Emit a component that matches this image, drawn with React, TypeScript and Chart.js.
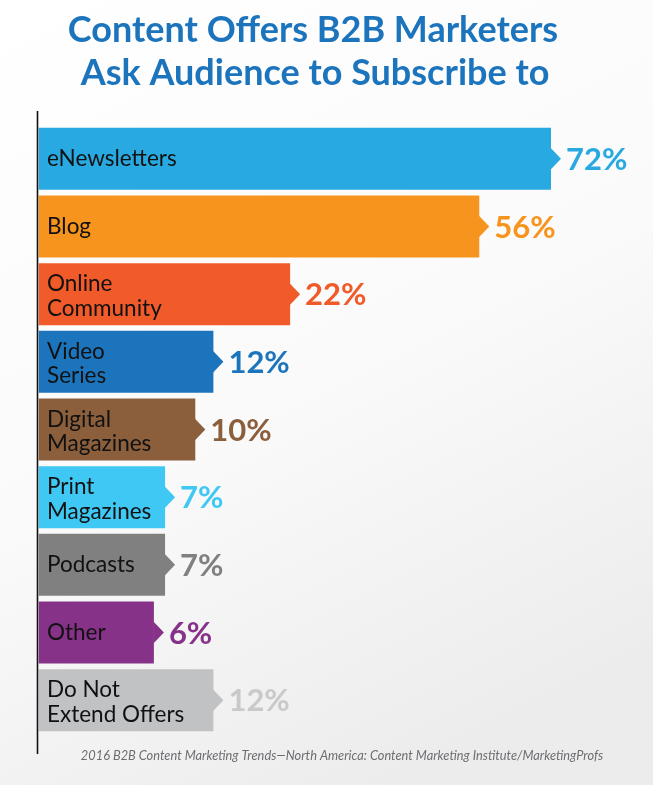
import React, { useEffect, useRef } from "react";
import { Chart, registerables, LinearScale } from "chart.js";

Chart.register(...registerables);

// ---- data ----
const categories: (string | string[])[] = [
  "eNewsletters",
  "Blog",
  ["Online", "Community"],
  ["Video", "Series"],
  ["Digital", "Magazines"],
  ["Print", "Magazines"],
  "Podcasts",
  "Other",
  ["Do Not", "Extend Offers"],
];
const values: number[] = [72, 56, 22, 12, 10, 7, 7, 6, 12];
const barColors: string[] = [
  "#29a9e1",
  "#f7941e",
  "#f15a29",
  "#1c75bc",
  "#8b5e3c",
  "#3fc8f4",
  "#808080",
  "#873289",
  "#c1c2c4",
];
const valueColors: string[] = [
  "#29a9e1",
  "#f7941e",
  "#f15a29",
  "#1c75bc",
  "#8b5e3c",
  "#3fc8f4",
  "#808080",
  "#873289",
  "#c8c9cb",
];
const titleLines: string[] = ["Content Offers B2B Marketers", "Ask Audience to Subscribe to"];
const sourceText =
  "2016 B2B Content Marketing Trends\u2014North America: Content Marketing Institute/MarketingProfs";

// Infographic-style compressed value axis (power scale)
const EXP = 0.6;
class PowerScale extends LinearScale {
  static id = "power";
  static defaults = LinearScale.defaults;
  getPixelForValue(value: number) {
    const range = this.max - this.min || 1;
    const t = Math.pow(Math.max(0, (value - this.min) / range), EXP);
    return this.getPixelForDecimal(t);
  }
  getValueForPixel(pixel: number) {
    const t = Math.max(0, this.getDecimalForPixel(pixel));
    return this.min + Math.pow(t, 1 / EXP) * (this.max - this.min);
  }
}
Chart.register(PowerScale as any);

const decor = {
  id: "decor",
  beforeDraw(chart: any) {
    const { ctx, width, height } = chart;
    ctx.save();
    const g = ctx.createLinearGradient(0, 0, width * 0.6, height);
    g.addColorStop(0, "#ffffff");
    g.addColorStop(0.55, "#fafafa");
    g.addColorStop(1, "#ececec");
    ctx.fillStyle = g;
    ctx.fillRect(0, 0, width, height);

    // title
    ctx.fillStyle = "#1c75bc";
    ctx.font = "bold 36px Lato";
    ctx.textAlign = "center";
    ctx.textBaseline = "alphabetic";
    ctx.fillText(titleLines[0], 313, 42);
    ctx.fillText(titleLines[1], 315, 85);
    ctx.restore();
  },
  afterDatasetsDraw(chart: any) {
    const { ctx } = chart;
    const meta = chart.getDatasetMeta(0);
    ctx.save();
    meta.data.forEach((bar: any, i: number) => {
      const { x, y } = bar.getProps(["x", "y"], true);
      // arrow tip
      ctx.fillStyle = barColors[i];
      ctx.beginPath();
      ctx.moveTo(x - 0.5, y - 11);
      ctx.lineTo(x + 10, y);
      ctx.lineTo(x - 0.5, y + 11);
      ctx.closePath();
      ctx.fill();
      // category label inside bar
      const lines = Array.isArray(categories[i]) ? (categories[i] as string[]) : [categories[i] as string];
      ctx.fillStyle = "#111111";
      ctx.font = "22.5px Lato";
      ctx.textAlign = "left";
      ctx.textBaseline = "middle";
      const lh = 24.5;
      const start = y - ((lines.length - 1) * lh) / 2 + (lines.length > 1 ? 2 : 0);
      lines.forEach((ln, k) => ctx.fillText(ln, chart.chartArea.left + 8.5, start + k * lh));
      // value
      ctx.fillStyle = valueColors[i];
      ctx.font = "bold 31px Lato";
      ctx.fillText(values[i] + "%", x + 15, y + 1);
    });
    // axis line
    ctx.strokeStyle = "#111111";
    ctx.lineWidth = 1.6;
    ctx.beginPath();
    ctx.moveTo(37.5, 111);
    ctx.lineTo(37.5, 754);
    ctx.stroke();
    // source
    ctx.fillStyle = "#6d6e71";
    ctx.font = "italic 12.8px Lato";
    ctx.textAlign = "center";
    ctx.textBaseline = "middle";
    ctx.fillText(sourceText, 342, 756);
    ctx.restore();
  },
};

export default function App() {
  const ref = useRef<HTMLCanvasElement | null>(null);
  useEffect(() => {
    if (!ref.current) return;
    const chart = new Chart(ref.current, {
      type: "bar",
      data: {
        labels: categories as any,
        datasets: [
          {
            data: values,
            backgroundColor: barColors,
            borderWidth: 0,
            barPercentage: 0.917,
            categoryPercentage: 1,
          },
        ],
      },
      options: {
        indexAxis: "y",
        responsive: false,
        animation: false,
        layout: { padding: { left: 38.5, right: 102, top: 125, bottom: 51 } },
        scales: {
          x: { type: "power" as any, min: 0, max: 72, display: false },
          y: { display: false },
        },
        plugins: {
          legend: { display: false },
          title: { display: false },
          tooltip: { enabled: false },
        },
      },
      plugins: [decor],
    });
    return () => chart.destroy();
  }, []);
  return (
    <div style={{ position: "absolute", left: 0, top: 0, width: 653, height: 785 }}>
      <canvas ref={ref} width={653} height={785} style={{ display: "block" }} />
    </div>
  );
}
